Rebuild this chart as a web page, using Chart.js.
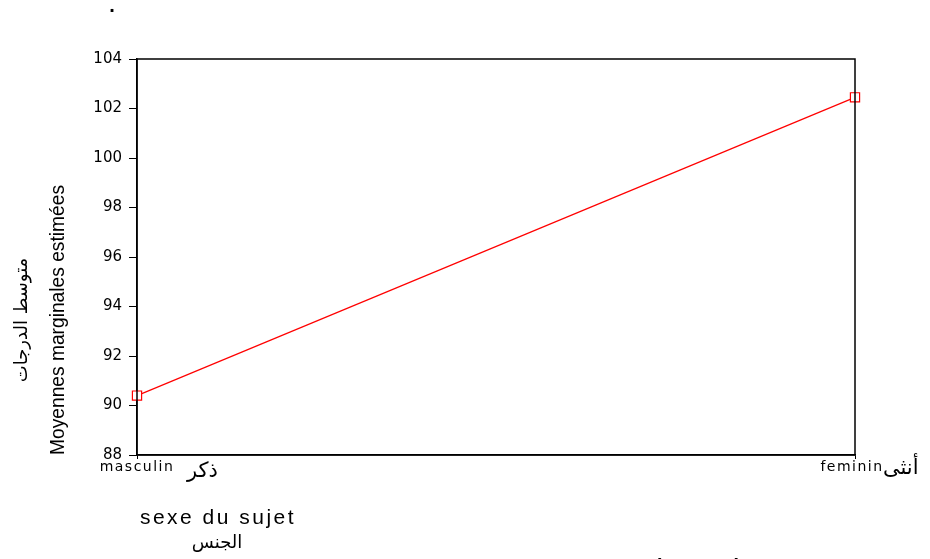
<!DOCTYPE html>
<html>
<head>
<meta charset="utf-8">
<script src="https://cdn.jsdelivr.net/npm/chart.js@4/dist/chart.umd.min.js"></script>
<style>
  html, body { margin: 0; padding: 0; background: #fff; }
  #wrap { width: 930px; height: 559px; position: relative; }
</style>
</head>
<body>
<div id="wrap"><canvas id="chart" width="930" height="559"></canvas></div>
<script>
// data
const categories = ['masculin', 'feminin'];
const categoriesAr = ['ذكر', 'أنثى'];
const meanValues = [90.4, 102.45];
const yTicks = [88, 90, 92, 94, 96, 98, 100, 102, 104];

const yTitleAr = 'متوسط الدرجات';
const yTitleFr = 'Moyennes marginales estimées';
const xTitleFr = 'sexe du sujet';
const xTitleAr = 'الجنس';

const textPlugin = {
    id: 'extraText',
    afterDraw(chart) {
        const ctx = chart.ctx;
        const area = chart.chartArea;
        const xs = chart.scales.x;

        // frame around the plot
        ctx.save();
        ctx.strokeStyle = '#000';
        ctx.lineWidth = 1.5;
        ctx.strokeRect(area.left, area.top, area.right - area.left, area.bottom - area.top);
        ctx.restore();

        ctx.save();
        ctx.fillStyle = '#000';
        ctx.textBaseline = 'middle';

        // category labels under the ticks
        ctx.textAlign = 'center';
        ctx.font = '14px "DejaVu Sans", sans-serif';
        ctx.letterSpacing = '1.5px';
        ctx.fillText(categories[0], xs.getPixelForValue(0), 467);
        ctx.fillText(categories[1], xs.getPixelForValue(1) - 3, 467);
        ctx.letterSpacing = '0px';

        // arabic category names next to them
        ctx.textAlign = 'left';
        ctx.font = '21px "DejaVu Sans", sans-serif';
        ctx.fillText(categoriesAr[0], xs.getPixelForValue(0) + 50, 472);
        ctx.fillText(categoriesAr[1], xs.getPixelForValue(1) + 28, 469);

        // y axis titles (rotated)
        ctx.save();
        ctx.translate(22, 320);
        ctx.rotate(-Math.PI / 2);
        ctx.textAlign = 'center';
        ctx.font = '18px "DejaVu Sans", sans-serif';
        ctx.fillText(yTitleAr, 0, 0);
        ctx.restore();

        ctx.save();
        ctx.translate(58, 320);
        ctx.rotate(-Math.PI / 2);
        ctx.textAlign = 'center';
        ctx.font = '20px Arial, "Liberation Sans", sans-serif';
        ctx.fillText(yTitleFr, 0, 0, 270);
        ctx.restore();

        // x axis titles
        ctx.textAlign = 'center';
        ctx.font = '21px Arial, "Liberation Sans", sans-serif';
        ctx.letterSpacing = '2.5px';
        ctx.fillText(xTitleFr, 218, 518);
        ctx.letterSpacing = '0px';
        ctx.font = '18px "DejaVu Sans", sans-serif';
        ctx.fillText(xTitleAr, 217, 543);

        // stray marks of the page
        ctx.font = 'bold 20px Arial, sans-serif';
        ctx.fillText('.', 112, 6);
        ctx.fillText('(  ٥  -  ٢  )', 698, 567);
        ctx.restore();
    }
};

new Chart(document.getElementById('chart'), {
    type: 'line',
    data: {
        labels: categories,
        datasets: [{
            data: meanValues,
            borderColor: '#ff0000',
            borderWidth: 1.2,
            backgroundColor: '#ffffff',
            pointStyle: 'rect',
            pointRadius: 6.5,
            pointBorderColor: '#ff0000',
            pointBorderWidth: 1.2,
            tension: 0
        }]
    },
    options: {
        responsive: false,
        animation: false,
        layout: {
            padding: { top: 59, right: 75, left: 0, bottom: 0 }
        },
        plugins: {
            legend: { display: false },
            tooltip: { enabled: false }
        },
        scales: {
            x: {
                offset: false,
                grid: {
                    display: true,
                    drawOnChartArea: false,
                    drawTicks: true,
                    tickLength: 4,
                    color: '#000'
                },
                border: { display: true, color: '#000', width: 1.5 },
                ticks: { display: false },
                afterFit(scale) { scale.height = 104; }
            },
            y: {
                min: yTicks[0],
                max: yTicks[yTicks.length - 1],
                afterBuildTicks(scale) {
                    scale.ticks = yTicks.map(v => ({ value: v }));
                },
                grid: {
                    display: true,
                    drawOnChartArea: false,
                    drawTicks: true,
                    tickLength: 8,
                    color: '#000'
                },
                border: { display: true, color: '#000', width: 1.5 },
                ticks: {
                    color: '#000',
                    padding: 7,
                    font: { family: '"DejaVu Sans", sans-serif', size: 15 }
                },
                afterFit(scale) { scale.width = 137; }
            }
        }
    },
    plugins: [textPlugin]
});
</script>
</body>
</html>
